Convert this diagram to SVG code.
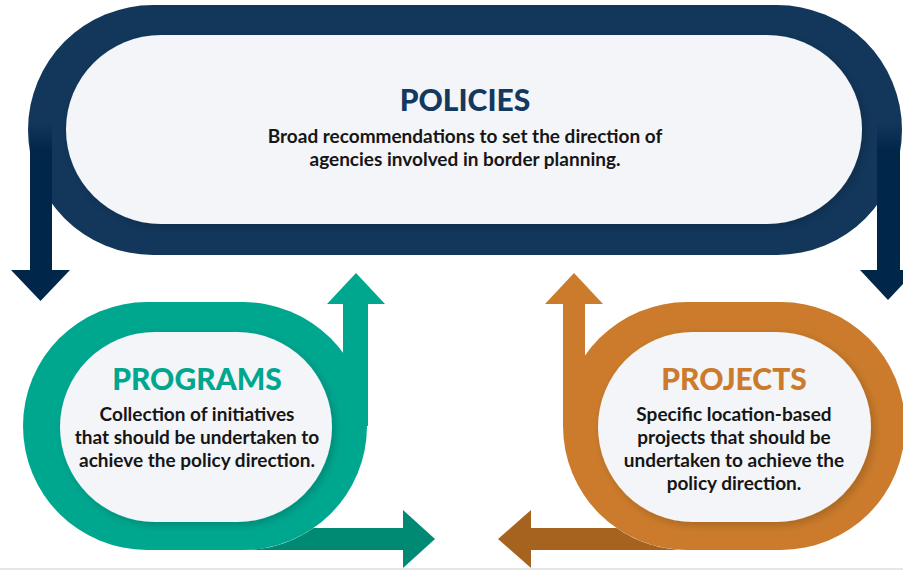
<svg xmlns="http://www.w3.org/2000/svg" width="903" height="570" viewBox="0 0 903 570">
<style>
.inner{fill:#f4f5f9}
.title{font-family:Lato,"Liberation Sans",sans-serif;font-weight:900;font-size:30px;text-anchor:middle}
.body{font-family:Lato,"Liberation Sans",sans-serif;font-weight:700;font-size:19px;fill:#161616;text-anchor:middle}
.navy{fill:#12375b}
.green{fill:#00a78f}
.orange{fill:#cb7b2b}
</style>
<defs>
<filter id="sh" x="-10%" y="-10%" width="120%" height="120%">
<feDropShadow dx="3" dy="3" stdDeviation="4" flood-color="#000" flood-opacity="0.18"/>
</filter>
<linearGradient id="gL" gradientUnits="userSpaceOnUse" x1="0" y1="122" x2="0" y2="150">
<stop offset="0" stop-color="#00264a" stop-opacity="0"/>
<stop offset="1" stop-color="#00264a"/>
</linearGradient>
<linearGradient id="gR" gradientUnits="userSpaceOnUse" x1="0" y1="122" x2="0" y2="150">
<stop offset="0" stop-color="#00264a" stop-opacity="0"/>
<stop offset="1" stop-color="#00264a"/>
</linearGradient>
</defs>
<rect width="903" height="570" fill="#fff"/>

<g id="policies">
<rect class="navy" x="28" y="5" width="874" height="250" rx="125" ry="125"/>
<rect class="inner" x="66" y="35" width="796" height="189" rx="95" ry="94.5" filter="url(#sh)"/>
<text class="title" x="465" y="111" fill="#14395e">POLICIES</text>
<text class="body" x="465" y="143">Broad recommendations to set the direction of</text>
<text class="body" x="465" y="166">agencies involved in border planning.</text>
</g>

<g id="programs">
<rect class="green" x="23" y="302" width="344" height="248" rx="124" ry="124"/>
<rect class="inner" x="60" y="332" width="272" height="190" rx="95" ry="95" filter="url(#sh)"/>
<text class="title" x="197" y="390" fill="#00a78f">PROGRAMS</text>
<text class="body" x="197" y="421">Collection of initiatives</text>
<text class="body" x="197" y="444">that should be undertaken to</text>
<text class="body" x="197" y="467">achieve the policy direction.</text>
</g>

<g id="projects">
<rect class="orange" x="563" y="302" width="342" height="248" rx="124" ry="124"/>
<rect class="inner" x="598" y="332" width="273" height="190" rx="95" ry="95" filter="url(#sh)"/>
<text class="title" x="734" y="390" fill="#cc7a2c">PROJECTS</text>
<text class="body" x="734" y="421">Specific location-based</text>
<text class="body" x="734" y="444">projects that should be</text>
<text class="body" x="734" y="467">undertaken to achieve the</text>
<text class="body" x="734" y="490">policy direction.</text>
</g>

<g id="connectors">
<!-- policies down arrows -->
<rect x="30" y="122" width="22" height="150" fill="url(#gL)"/>
<polygon points="11,270 70,270 40.5,301" fill="#00264a"/>
<rect x="877" y="122" width="23" height="150" fill="url(#gR)"/>
<polygon points="860,270 916,270 888,300" fill="#00264a"/>
<!-- programs up arrow -->
<rect class="green" x="343" y="300" width="25" height="126"/>
<polygon class="green" points="327,304 385,304 356,273"/>
<!-- programs right arrow -->
<path d="M313.5,528 H405 V550 H243 A124,124 0 0 0 313.5,528 Z" fill="#008a74"/>
<polygon points="403,510 435,539 403,568" fill="#008a74"/>
<!-- projects up arrow -->
<rect class="orange" x="563" y="300" width="22" height="126"/>
<polygon class="orange" points="545,304 603,304 574,273"/>
<!-- projects left arrow -->
<path d="M616.5,528 H531 V550 H687 A124,124 0 0 1 616.5,528 Z" fill="#a6631f"/>
<polygon points="531,510 498,539 531,568" fill="#a6631f"/>
</g>
<rect x="0" y="568" width="903" height="2" fill="#e6e6e6"/>
</svg>
